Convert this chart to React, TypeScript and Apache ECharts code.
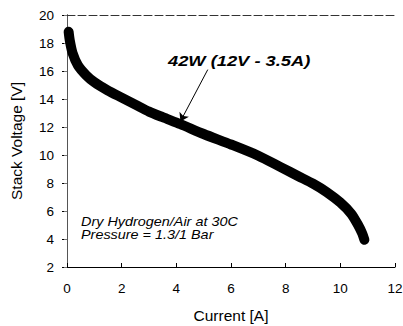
import React, { useEffect, useRef } from "react";
import * as echarts from "echarts";

const currentA = [0.06, 0.1, 0.2, 0.4, 0.7, 1.0, 1.5, 2.0, 2.5, 3.0, 3.5, 4.15, 5.0, 6.0, 7.0, 7.8, 8.5, 9.0, 9.5, 10.0, 10.4, 10.65, 10.8, 10.88];
const stackV = [18.8, 18.2, 17.3, 16.4, 15.7, 15.2, 14.6, 14.1, 13.6, 13.1, 12.7, 12.2, 11.5, 10.75, 9.95, 9.15, 8.45, 7.95, 7.35, 6.6, 5.8, 5.0, 4.4, 3.95];
const xTicks = { min: 0, max: 12, interval: 2 };
const yTicks = { min: 2, max: 20, interval: 2 };
const arrowFrom = [5.15, 16.1];
const arrowTo = [4.15, 12.4];
const powerNote = "42W (12V - 3.5A)";
const condLines = ["Dry Hydrogen/Air at 30C", "Pressure = 1.3/1 Bar"];

export default function App() {
  const ref = useRef<HTMLDivElement>(null);
  useEffect(() => {
    document.body.style.margin = "0";
    const chart = echarts.init(ref.current!, null, { renderer: "svg" });
    const font = "Liberation Sans, Arial, sans-serif";
    chart.setOption({
      animation: false,
      backgroundColor: "#fff",
      textStyle: { fontFamily: font },
      grid: { left: 67, right: 8, top: 15, bottom: 59, containLabel: false, outerBoundsMode: "none" },
      xAxis: [
        {
          type: "value",
          ...xTicks,
          axisLine: { lineStyle: { color: "#000", width: 1 } },
          axisTick: { inside: true, length: 4, lineStyle: { color: "#000" } },
          splitLine: { show: false },
          axisLabel: { fontSize: 13.5, color: "#000", margin: 14, fontFamily: font },
          name: "Current [A]",
          nameLocation: "middle",
          nameGap: 40,
          nameTextStyle: { fontSize: 15.5, color: "#000", fontFamily: font },
        },
        {
          type: "value",
          position: "top",
          ...xTicks,
          axisLine: { show: true, lineStyle: { color: "#333", width: 1, type: [8, 3] } },
          axisTick: { show: false },
          axisLabel: { show: false },
          splitLine: { show: false },
        },
      ],
      yAxis: [
        {
          type: "value",
          ...yTicks,
          axisLine: { show: true, lineStyle: { color: "#000", width: 1 } },
          axisTick: { show: true, inside: false, length: 5, lineStyle: { color: "#000" } },
          splitLine: { show: false },
          axisLabel: { fontSize: 13.5, color: "#000", margin: 13, fontFamily: font },
          name: "Stack Voltage [V]",
          nameLocation: "middle",
          nameGap: 43,
          nameTextStyle: { fontSize: 15.5, color: "#000", fontFamily: font },
        },
        {
          type: "value",
          position: "right",
          ...yTicks,
          axisLine: { show: true, lineStyle: { color: "#555", width: 1 } },
          axisTick: { show: true, inside: true, length: 3, lineStyle: { color: "#777" } },
          axisLabel: { show: false },
          splitLine: { show: false },
        },
      ],
      series: [
        {
          type: "line",
          data: currentA.map((c, i) => [c, stackV[i]]),
          smooth: 0.25,
          showSymbol: false,
          lineStyle: { color: "#000", width: 10, cap: "round", join: "round" },
          markLine: {
            silent: true,
            symbol: ["none", "arrow"],
            symbolSize: 8,
            label: { show: false },
            lineStyle: { color: "#000", width: 1, type: "solid" },
            data: [[{ coord: arrowFrom }, { coord: arrowTo }]],
          },
        },
      ],
      graphic: [
        {
          type: "text",
          x: 168,
          y: 54,
          scaleX: 1.22,
          style: { text: powerNote, font: `italic bold 15px ${font}`, fill: "#000" },
        },
        {
          type: "text",
          x: 81,
          y: 216,
          scaleX: 1.2,
          style: { text: condLines[0], font: `italic 12px ${font}`, fill: "#000" },
        },
        {
          type: "text",
          x: 81,
          y: 229,
          scaleX: 1.2,
          style: { text: condLines[1], font: `italic 12px ${font}`, fill: "#000" },
        },
      ],
    });
    return () => chart.dispose();
  }, []);
  return <div ref={ref} style={{ width: 403, height: 326 }} />;
}
